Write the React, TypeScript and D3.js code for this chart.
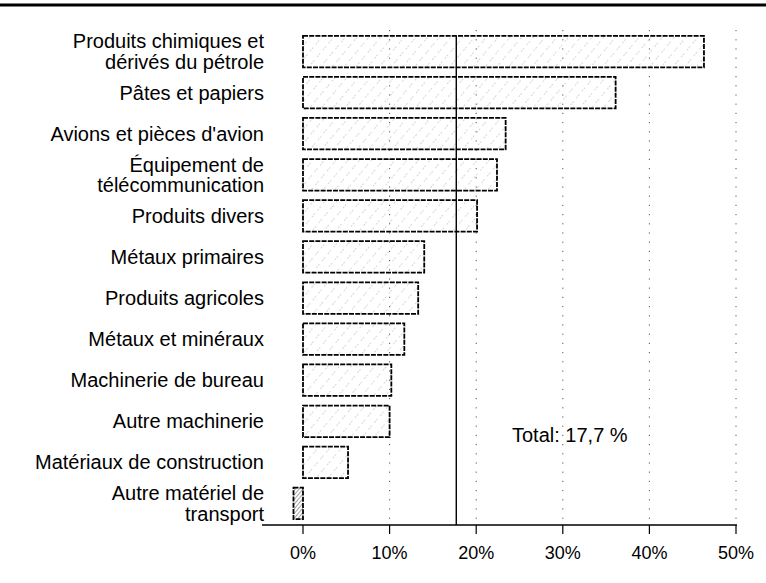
import React from 'react'
import * as d3 from 'd3'

const categories = [
    'Produits chimiques et\ndérivés du pétrole',
    'Pâtes et papiers',
    "Avions et pièces d'avion",
    'Équipement de\ntélécommunication',
    'Produits divers',
    'Métaux primaires',
    'Produits agricoles',
    'Métaux et minéraux',
    'Machinerie de bureau',
    'Autre machinerie',
    'Matériaux de construction',
    'Autre matériel de\ntransport'
]
const values = [46.3, 36.1, 23.4, 22.4, 20.1, 14.0, 13.3, 11.7, 10.2, 10.0, 5.2, -1.1]
const totalValue = 17.7
const totalLabel = 'Total: 17,7 %'
const tickValues = [0, 10, 20, 30, 40, 50]

const W = 766
const H = 583
const font = '"Liberation Sans", Arial, Helvetica, sans-serif'

const x = d3.scaleLinear().domain([0, 50]).range([303, 736])
const y = d3.scaleBand<string>()
    .domain(categories)
    .range([31, 524])
    .paddingInner(0.234)
    .paddingOuter(0.117)

const axisY = 525

function App() {
    const bw = y.bandwidth()
    return (
        <svg width={W} height={H} style={{ position: 'absolute', left: 0, top: 0, background: 'white' }} fontFamily={font}>
            <defs>
                <pattern id="hatch" width="9" height="9" patternUnits="userSpaceOnUse" patternTransform="rotate(40)">
                    <line x1="0" y1="0" x2="0" y2="9" stroke="#9a9a9a" strokeWidth="0.8" strokeDasharray="2,4" />
                </pattern>
                <pattern id="dense" width="3" height="3" patternUnits="userSpaceOnUse" patternTransform="rotate(40)">
                    <line x1="0" y1="0" x2="0" y2="3" stroke="#333" strokeWidth="0.9" />
                </pattern>
            </defs>

            {/* top rule */}
            <line x1={0} x2={W} y1={5} y2={5} stroke="black" strokeWidth={3} />

            {/* dotted grid */}
            {tickValues.filter(t => t > 0).map(t => (
                <line key={'g' + t} x1={x(t)} x2={x(t)} y1={30} y2={axisY}
                    stroke="#555" strokeWidth={1} strokeDasharray="1.2,8" />
            ))}

            {/* bars */}
            {categories.map((c, i) => {
                const v = values[i]
                const x0 = x(Math.min(0, v))
                const x1 = x(Math.max(0, v))
                return (
                    <rect key={c} x={x0} y={y(c)} width={x1 - x0} height={bw}
                        fill={v < 0 ? 'url(#dense)' : 'url(#hatch)'}
                        stroke="black" strokeWidth={1.8} strokeDasharray="5,1.2" />
                )
            })}

            {/* total line */}
            <line x1={x(totalValue)} x2={x(totalValue)} y1={y(categories[0])} y2={axisY} stroke="black" strokeWidth={1.4} />
            <text x={512} y={435} dy="0.35em" fontSize={20} fill="black">{totalLabel}</text>

            {/* category labels */}
            {categories.map(c => {
                const lines = c.split('\n')
                const cy = (y(c) as number) + bw / 2
                return (
                    <text key={'l' + c} x={264} textAnchor="end" fontSize={20} fill="black">
                        {lines.map((ln, j) => (
                            <tspan key={j} x={264} y={cy + (j - (lines.length - 1) / 2) * 20.5} dy="0.35em">{ln}</tspan>
                        ))}
                    </text>
                )
            })}

            {/* x axis */}
            <line x1={262} x2={x(50) + 1} y1={axisY} y2={axisY} stroke="black" strokeWidth={1.5} />
            {tickValues.map(t => (
                <g key={'t' + t}>
                    <line x1={x(t)} x2={x(t)} y1={axisY} y2={axisY + 9} stroke="black" strokeWidth={1.2} />
                    <text x={x(t)} y={553} dy="0.35em" textAnchor="middle" fontSize={18} fill="black">{t + '%'}</text>
                </g>
            ))}
        </svg>
    )
}

export default App
